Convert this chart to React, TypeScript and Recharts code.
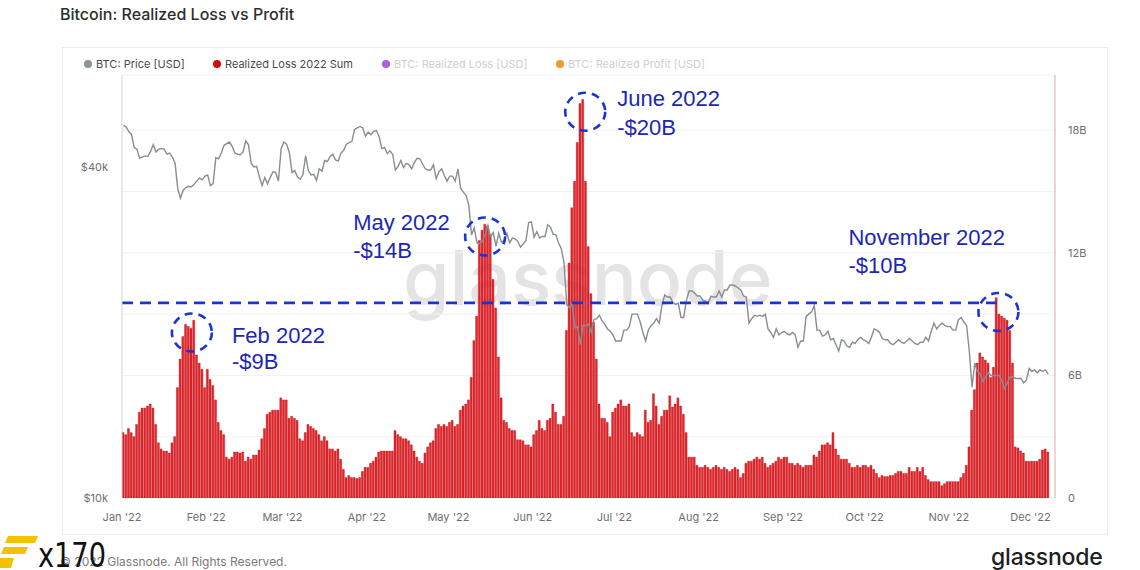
import React from 'react';
import {
  ComposedChart,
  Bar,
  Line,
  XAxis,
  YAxis,
  CartesianGrid,
  ReferenceLine,
  ReferenceDot,
} from 'recharts';

// Realized Loss 2022 Sum, billions USD, daily from 1 Jan 2022 to 7 Dec 2022
const lossB: number[] = [
  3.2, 3.1, 3.4, 3.2, 3.0, 3.6, 4.2, 4.4, 4.4, 4.5,
  4.6, 4.4, 3.6, 2.7, 2.4, 2.3, 2.3, 2.2, 2.7, 3.0,
  5.4, 6.8, 7.9, 8.5, 8.4, 8.3, 8.7, 7.0, 6.6, 6.3,
  5.4, 6.3, 5.8, 5.5, 4.8, 3.7, 3.3, 3.1, 2.0, 1.9,
  2.0, 2.25, 2.25, 2.2, 2.25, 1.8, 2.0, 1.9, 2.1, 2.1,
  2.35, 2.9, 3.4, 4.1, 4.2, 4.3, 4.3, 4.3, 4.9, 4.8,
  4.8, 3.9, 4.0, 3.9, 3.8, 2.9, 2.8, 3.2, 3.6, 3.5,
  3.4, 3.3, 3.1, 2.8, 3.0, 2.8, 2.4, 2.4, 2.3, 2.4,
  1.9, 1.4, 1.0, 1.1, 1.0, 1.0, 0.95, 1.0, 1.3, 1.5,
  1.5, 1.7, 1.8, 2.0, 2.25, 2.3, 2.3, 2.3, 2.3, 2.3,
  3.3, 3.1, 3.0, 2.9, 2.9, 2.8, 2.6, 2.3, 2.0, 1.8,
  1.7, 2.2, 2.5, 2.7, 2.8, 3.4, 3.6, 3.5, 3.6, 3.5,
  3.7, 3.8, 3.5, 3.6, 4.3, 4.5, 4.6, 4.8, 5.9, 7.7,
  8.9, 12.6, 13.1, 13.4, 13.3, 12.9, 10.7, 9.3, 6.9, 4.9,
  3.8, 3.7, 3.4, 3.3, 3.3, 2.85, 2.85, 2.8, 2.6, 2.6,
  2.5, 3.1, 3.3, 3.8, 3.4, 3.3, 3.8, 3.9, 4.6, 4.2,
  3.6, 3.6, 4.0, 8.2, 11.5, 14.2, 15.5, 17.4, 19.3, 19.5,
  15.5, 12.3, 10.0, 8.6, 6.8, 4.6, 3.9, 3.9, 3.7, 3.0,
  4.2, 4.4, 4.6, 4.8, 4.5, 4.5, 4.6, 3.2, 3.0, 3.2,
  3.1, 3.0, 4.3, 3.7, 3.8, 5.1, 4.5, 3.6, 4.0, 4.3,
  4.3, 5.0, 4.45, 4.6, 4.9, 4.5, 4.1, 3.2, 2.0, 2.0,
  2.0, 1.6, 1.5, 1.5, 1.6, 1.5, 1.4, 1.5, 1.6, 1.5,
  1.4, 1.5, 1.4, 1.3, 1.4, 1.5, 1.4, 1.0, 1.2, 1.7,
  1.8, 1.8, 1.9, 2.0, 1.9, 2.0, 1.7, 1.5, 1.6, 1.7,
  1.8, 2.0, 1.9, 2.0, 2.0, 1.7, 1.7, 1.6, 1.7, 1.6,
  1.5, 1.6, 1.6, 1.6, 2.1, 2.0, 2.3, 2.6, 2.6, 2.7,
  2.6, 3.2, 2.4, 2.1, 1.9, 1.9, 1.9, 1.7, 1.5, 1.5,
  1.6, 1.5, 1.6, 1.6, 1.5, 1.6, 1.4, 1.2, 1.0, 1.1,
  1.05, 1.05, 1.1, 1.1, 1.2, 1.3, 1.3, 1.2, 1.2, 1.5,
  1.3, 1.3, 1.5, 1.3, 1.5, 1.1, 0.9, 0.8, 0.8, 0.8,
  0.8, 0.6, 0.7, 0.8, 0.8, 0.8, 0.8, 0.8, 1.0, 1.2,
  1.6, 2.5, 4.3, 5.3, 6.6, 7.1, 6.9, 6.75, 6.6, 5.9,
  6.4, 9.8, 9.0, 8.9, 8.8, 8.7, 8.2, 6.6, 2.5, 2.45,
  2.3, 2.2, 1.8, 1.8, 1.8, 1.8, 1.8, 1.9, 2.35, 2.4, 2.25,
];

// BTC price, thousands USD, same days
const priceK: number[] = [
  // Jan
  47.7, 47.3, 46.4, 45.8, 43.4, 43.1, 41.5, 41.7, 41.9, 41.8, 42.7, 43.9, 42.6, 43.1, 43.2, 43.1,
  42.2, 42.4, 41.7, 40.7, 36.5, 35.1, 36.3, 36.7, 36.9, 36.8, 37.2, 37.7, 38.2, 37.9, 38.5,
  // Feb
  38.7, 37.0, 37.3, 41.6, 41.4, 42.4, 43.8, 44.1, 44.4, 43.6, 42.4, 42.2, 42.1, 42.6, 44.6, 43.9,
  40.6, 40.0, 40.1, 38.4, 37.0, 38.3, 37.3, 38.3, 39.2, 39.1, 37.7, 43.2,
  // Mar
  44.4, 44.0, 42.5, 39.1, 39.4, 38.4, 38.0, 38.7, 41.9, 39.4, 38.7, 38.8, 37.8, 39.7, 39.3, 41.1,
  40.9, 41.8, 42.2, 41.2, 41.0, 42.4, 42.9, 44.0, 44.3, 44.5, 46.8, 47.1, 47.4, 47.1, 45.5,
  // Apr
  46.3, 45.8, 46.4, 46.6, 45.5, 43.2, 43.4, 42.3, 42.8, 42.2, 39.5, 40.1, 41.1, 39.9, 40.6, 40.4,
  39.7, 40.8, 41.5, 41.4, 40.5, 39.7, 39.5, 39.5, 40.4, 38.1, 39.2, 39.7, 38.6, 37.7,
  // May
  38.5, 38.5, 37.7, 39.7, 36.6, 36.0, 35.5, 34.1, 30.1, 31.0, 29.1, 29.0, 29.3, 30.1, 31.3, 29.9,
  30.4, 28.7, 30.3, 29.2, 29.4, 30.3, 29.1, 29.7, 29.6, 29.3, 28.6, 29.0, 29.4, 31.7, 31.8,
  // Jun
  29.8, 30.5, 29.7, 29.9, 29.9, 31.4, 31.1, 30.2, 30.1, 29.1, 28.4, 26.8, 22.5, 22.2, 22.6, 20.4,
  20.5, 19.0, 20.6, 20.6, 20.7, 20.0, 21.1, 21.2, 21.5, 21.0, 20.7, 20.3, 20.1, 19.8,
  // Jul
  19.3, 19.3, 19.3, 20.2, 20.2, 20.5, 21.6, 21.6, 21.6, 20.9, 20.0, 19.3, 20.2, 20.6, 20.8, 21.2,
  20.8, 22.4, 23.4, 23.2, 23.2, 22.7, 22.5, 22.6, 21.3, 21.3, 22.9, 23.8, 23.8, 23.6, 23.3,
  // Aug
  23.3, 22.9, 22.8, 22.6, 23.3, 23.2, 23.2, 23.8, 23.2, 23.9, 23.9, 24.4, 24.4, 24.3, 24.1, 23.9,
  23.3, 23.2, 20.8, 21.2, 21.5, 21.4, 21.5, 21.4, 21.6, 20.3, 20.0, 19.6, 20.3, 19.8, 20.0,
  // Sep
  20.1, 19.9, 19.8, 20.0, 19.8, 18.8, 19.3, 19.3, 21.4, 21.6, 21.8, 22.4, 20.2, 20.2, 19.7, 19.8,
  20.1, 19.4, 19.5, 19.0, 18.5, 19.4, 19.3, 18.9, 18.8, 19.2, 19.1, 19.4, 19.6, 19.4,
  // Oct
  19.3, 19.1, 19.6, 20.3, 20.2, 20.0, 19.5, 19.4, 19.4, 19.1, 19.0, 19.2, 19.4, 19.2, 19.1, 19.3,
  19.5, 19.3, 19.1, 19.0, 19.2, 19.2, 19.6, 19.3, 20.1, 20.8, 20.3, 20.6, 20.8, 20.6, 20.5,
  // Nov
  20.5, 20.2, 20.2, 21.1, 21.3, 20.9, 20.6, 18.5, 15.9, 17.6, 17.0, 16.8, 16.3, 16.6, 16.9, 16.7,
  16.7, 16.7, 16.7, 16.3, 15.8, 16.2, 16.6, 16.6, 16.5, 16.5, 16.5, 16.2, 16.4, 17.2,
  // Dec
  17.0, 17.1, 16.9, 17.1, 17.0, 17.1, 16.8,
];

const monthStartDays: number[] = [0, 31, 59, 90, 120, 151, 181, 212, 243, 273, 304, 334];
const monthLabels: string[] = [
  "Jan '22", "Feb '22", "Mar '22", "Apr '22", "May '22", "Jun '22",
  "Jul '22", "Aug '22", "Sep '22", "Oct '22", "Nov '22", "Dec '22",
];

const priceTicks: number[] = [10, 40];
const lossTicks: number[] = [0, 3, 6, 9, 12, 15, 18];

// Annotated peaks: day index (x), loss in B (y), texts
const peakDays: number[] = [25.7, 133.5, 170.3, 322.2];
const peakValues: number[] = [8.1, 12.8, 18.9, 9.1];
const peakTitles: string[] = ['Feb 2022', 'May 2022', 'June 2022', 'November 2022'];
const peakAmounts: string[] = ['-$9B', '-$14B', '-$20B', '-$10B'];
const thresholdB = 9.55;
const thresholdEndDay = 321.5;

const data = lossB.map((v, i) => ({ x: i + 0.5, loss: v, price: priceK[i] }));

const BLUE = '#1b33d4';
const TEXT_BLUE = '#1d27b0';
const AXIS_TEXT = { fill: '#6f6f6f', fontSize: 11, fontFamily: 'Inter, sans-serif' };

const calloutOffsets = [
  { dx: 40, dy1: 3, dy2: 29 },
  { dx: -132, dy1: -14, dy2: 14 },
  { dx: 32, dy1: -13, dy2: 16 },
  { dx: -150, dy1: -75, dy2: -47 },
];

const makeCallout = (i: number) => (props: any) => {
  const { cx, cy } = props;
  const o = calloutOffsets[i];
  return (
    <g>
      <ellipse cx={cx} cy={cy} rx={20} ry={19} fill="none" stroke={BLUE} strokeWidth={2.6} strokeDasharray="8 6" />
      <text x={cx + o.dx} y={cy + o.dy1} fill={TEXT_BLUE} fontSize={22}
        fontFamily="'Liberation Sans', Arial, sans-serif" dominantBaseline="central">{peakTitles[i]}</text>
      <text x={cx + o.dx} y={cy + o.dy2} fill={TEXT_BLUE} fontSize={22}
        fontFamily="'Liberation Sans', Arial, sans-serif" dominantBaseline="central">{peakAmounts[i]}</text>
    </g>
  );
};

const legendItems = [
  { label: 'BTC: Price [USD]', dot: '#8e9396', color: '#4a4a4a', left: 84 },
  { label: 'Realized Loss 2022 Sum', dot: '#d50c0c', color: '#4a4a4a', left: 213 },
  { label: 'BTC: Realized Loss [USD]', dot: '#b35be0', color: '#cfcfcf', left: 382 },
  { label: 'BTC: Realized Profit [USD]', dot: '#f39a2b', color: '#cfcfcf', left: 556 },
];

export default function App() {
  return (
    <div style={{ position: 'absolute', left: 0, top: 0, width: 1140, height: 570, background: '#fff', overflow: 'hidden', fontFamily: 'Inter, sans-serif' }}>
      <div style={{ position: 'absolute', left: 60, top: 4, fontSize: 16, color: '#2e2e2e', lineHeight: '20px', fontWeight: 500 }}>
        Bitcoin: Realized Loss vs Profit
      </div>
      <div style={{ position: 'absolute', left: 62, top: 47, width: 1046, height: 488, border: '1px solid #ececec', boxSizing: 'border-box' }} />
      {legendItems.map((it) => (
        <div key={it.label} style={{ position: 'absolute', left: it.left, top: 57, height: 14, display: 'flex', alignItems: 'center', fontSize: 11, color: it.color, whiteSpace: 'nowrap' }}>
          <span style={{ display: 'inline-block', width: 8, height: 8, borderRadius: 4, background: it.dot, marginRight: 4 }} />
          {it.label}
        </div>
      ))}
      <svg width={1140} height={570} style={{ position: 'absolute', left: 0, top: 0 }}>
        <text x={403} y={305} fontSize={75} fontWeight={500} fill="#e4e4e4" fontFamily="Inter, sans-serif">glassnode</text>
      </svg>
      <div style={{ position: 'absolute', left: 0, top: 0 }}>
        <ComposedChart width={1140} height={570} data={data} margin={{ top: 75, right: 40, bottom: 42, left: 62 }}>
          <CartesianGrid yAxisId="right" vertical={false} stroke="#f1f1f1" />
          <XAxis
            dataKey="x"
            type="number"
            domain={[0, 343]}
            allowDataOverflow
            ticks={monthStartDays}
            tickFormatter={(v: number) => monthLabels[monthStartDays.indexOf(v)] ?? ''}
            axisLine={false}
            tickLine={false}
            tickSize={0}
            tickMargin={15}
            height={30}
            tick={AXIS_TEXT}
            interval={0}
          />
          <YAxis
            yAxisId="left"
            orientation="left"
            scale="log"
            domain={[10, 58.8]}
            allowDataOverflow
            ticks={priceTicks}
            tickFormatter={(v: number) => `$${v}k`}
            width={60}
            axisLine={{ stroke: '#d4d4d4' }}
            tickLine={false}
            tickSize={0}
            tickMargin={14}
            tick={AXIS_TEXT}
          />
          <YAxis
            yAxisId="right"
            orientation="right"
            domain={[0, 20.7]}
            allowDataOverflow
            ticks={lossTicks}
            tickFormatter={(v: number) => (v === 0 ? '0' : v % 6 === 0 ? `${v}B` : '')}
            width={45}
            axisLine={{ stroke: '#dcaaaa' }}
            tickLine={false}
            tickSize={0}
            tickMargin={13}
            tick={AXIS_TEXT}
          />
          <Bar yAxisId="right" dataKey="loss" fill="#e5262c" stroke="#b80d12" strokeWidth={0.4} barSize={2} isAnimationActive={false} />
          <Line yAxisId="left" dataKey="price" type="linear" stroke="#878d91" strokeWidth={1.4} dot={false} activeDot={false} isAnimationActive={false} />
          <ReferenceLine
            yAxisId="right"
            segment={[{ x: 0, y: thresholdB }, { x: thresholdEndDay, y: thresholdB }]}
            stroke={BLUE}
            strokeWidth={2.6}
            strokeDasharray="11 7"
          />
          {peakDays.map((d, i) => (
            <ReferenceDot key={i} yAxisId="right" x={d} y={peakValues[i]} r={20} shape={makeCallout(i)} />
          ))}
        </ComposedChart>
      </div>
      <div style={{ position: 'absolute', left: 60, top: 554, fontSize: 12, color: '#7a7a7a', lineHeight: '15px' }}>
        © 2022 Glassnode. All Rights Reserved.
      </div>
      <svg width={120} height={36} style={{ position: 'absolute', left: 0, top: 534 }}>
        <polygon points="8,2 38,2 35,9 5,9" fill="#f5c000" />
        <polygon points="4,13 28,13 25,20 1,20" fill="#f5c000" />
        <polygon points="0,24 14,24 11,34 -3,34" fill="#f5c000" />
        <text x={38} y={33} fontSize={34} fill="#111" fontFamily="'DejaVu Sans', sans-serif" transform="translate(38 0) scale(0.8 1) translate(-38 0)">x170</text>
      </svg>
      <div style={{ position: 'absolute', left: 991, top: 545, fontSize: 23, color: '#1e1e1e', fontWeight: 500, letterSpacing: -0.2, lineHeight: '24px', whiteSpace: 'nowrap' }}>
        glassnode
      </div>
    </div>
  );
}
